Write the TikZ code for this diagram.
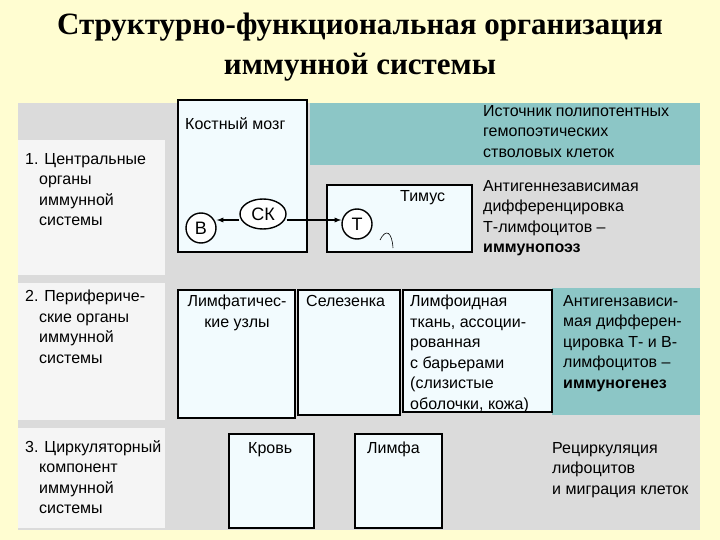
\documentclass[tikz,border=0pt]{standalone}
\usepackage{fontspec}
\usetikzlibrary{shapes.geometric}
\setmainfont{Liberation Sans}
\newfontfamily\titlefont{Liberation Serif}
\begin{document}
\begin{tikzpicture}[x=1pt,y=-1pt,
 box/.style={draw=black,line width=1.6pt,fill=white!95!cyan},
 txt/.style={anchor=north west,align=left,font=\fontsize{16}{20.5}\selectfont,inner sep=0pt},
 circ/.style={draw,circle,line width=1.4pt,fill=white,font=\fontsize{18}{18}\selectfont,minimum size=30pt,inner sep=0pt},
 arr/.style={line width=1.3pt,-latex}]
\useasboundingbox (0,0) rectangle (720,540);
\fill[yellow!18] (0,0) rectangle (720,540);
\fill[gray!28] (18,103) rectangle (700,530);
\fill[gray!8] (18,140) rectangle (165,275);
\fill[gray!8] (18,283) rectangle (165,420);
\fill[gray!8] (18,428) rectangle (165,528);
\fill[teal!45!white] (310,103) rectangle (700,165);
\fill[teal!45!white] (552,288) rectangle (700,415);
\node[font=\titlefont\bfseries\fontsize{31}{31}\selectfont] (t1) at (360,27) {Структурно-функциональная организация};
\node[font=\titlefont\bfseries\fontsize{31}{31}\selectfont] (t2) at (360,67) {иммунной системы};
% boxes
\draw[box] (178,100) rectangle (307,252);
\node[txt] (km) at (185,117) {Костный мозг};
\draw[box] (327,185) rectangle (472,252);
\node[txt] (tim) at (400,190) {Тимус};
\node[circ] (B) at (201,228) {B};
\node[draw,ellipse,line width=1.4pt,fill=white,font=\fontsize{18}{18}\selectfont,minimum width=46pt,minimum height=30pt,inner sep=0pt] (SK) at (263,214) {СК};
\node[circ] (T) at (357,224) {T};
\draw[arr] (SK.west) ++(0,6) -- (B.east |- 0,220);
\draw[arr] (SK.east) ++(0,6) -- (T.west |- 0,220);
\draw[line width=0.6pt] (380,240) .. controls (386,228) and (392,232) .. (393,248);
\node[txt] (src) at (483,105) {Источник полипотентных\\гемопоэтических\\стволовых клеток};
\node[txt] (ag1) at (483,180) {Антигеннезависимая\\дифференцировка\\Т-лимфоцитов –\\\textbf{иммунопоэз}};
\node[txt] (l1) at (25,153) {1. Центральные\\\hspace*{14pt}органы\\\hspace*{14pt}иммунной\\\hspace*{14pt}системы};
% row 2
\draw[box] (178,290) rectangle (295,418);
\node[txt,align=center,anchor=north] (lu) at (237,295) {Лимфатичес-\\кие узлы};
\draw[box] (298,290) rectangle (400,415);
\node[txt] (sel) at (306,295) {Селезенка};
\draw[box] (403,290) rectangle (552,412);
\node[txt] (lt) at (410,295) {Лимфоидная\\ткань, ассоции-\\рованная\\с барьерами\\(слизистые\\оболочки, кожа)};
\node[txt] (ag2) at (563,295) {Антигензависи-\\мая дифферен-\\цировка Т- и В-\\лимфоцитов –\\\textbf{иммуногенез}};
\node[txt] (l2) at (25,290) {2. Перифериче-\\\hspace*{14pt}ские органы\\\hspace*{14pt}иммунной\\\hspace*{14pt}системы};
% row 3
\draw[box] (229,434) rectangle (314,528);
\node[txt] (kr) at (248,442) {Кровь};
\draw[box] (355,434) rectangle (442,528);
\node[txt] (lf) at (367,442) {Лимфа};
\node[txt] (rec) at (552,442) {Рециркуляция\\лифоцитов\\и миграция клеток};
\node[txt] (l3) at (25,440) {3. Циркуляторный\\\hspace*{14pt}компонент\\\hspace*{14pt}иммунной\\\hspace*{14pt}системы};
\end{tikzpicture}
\end{document}
